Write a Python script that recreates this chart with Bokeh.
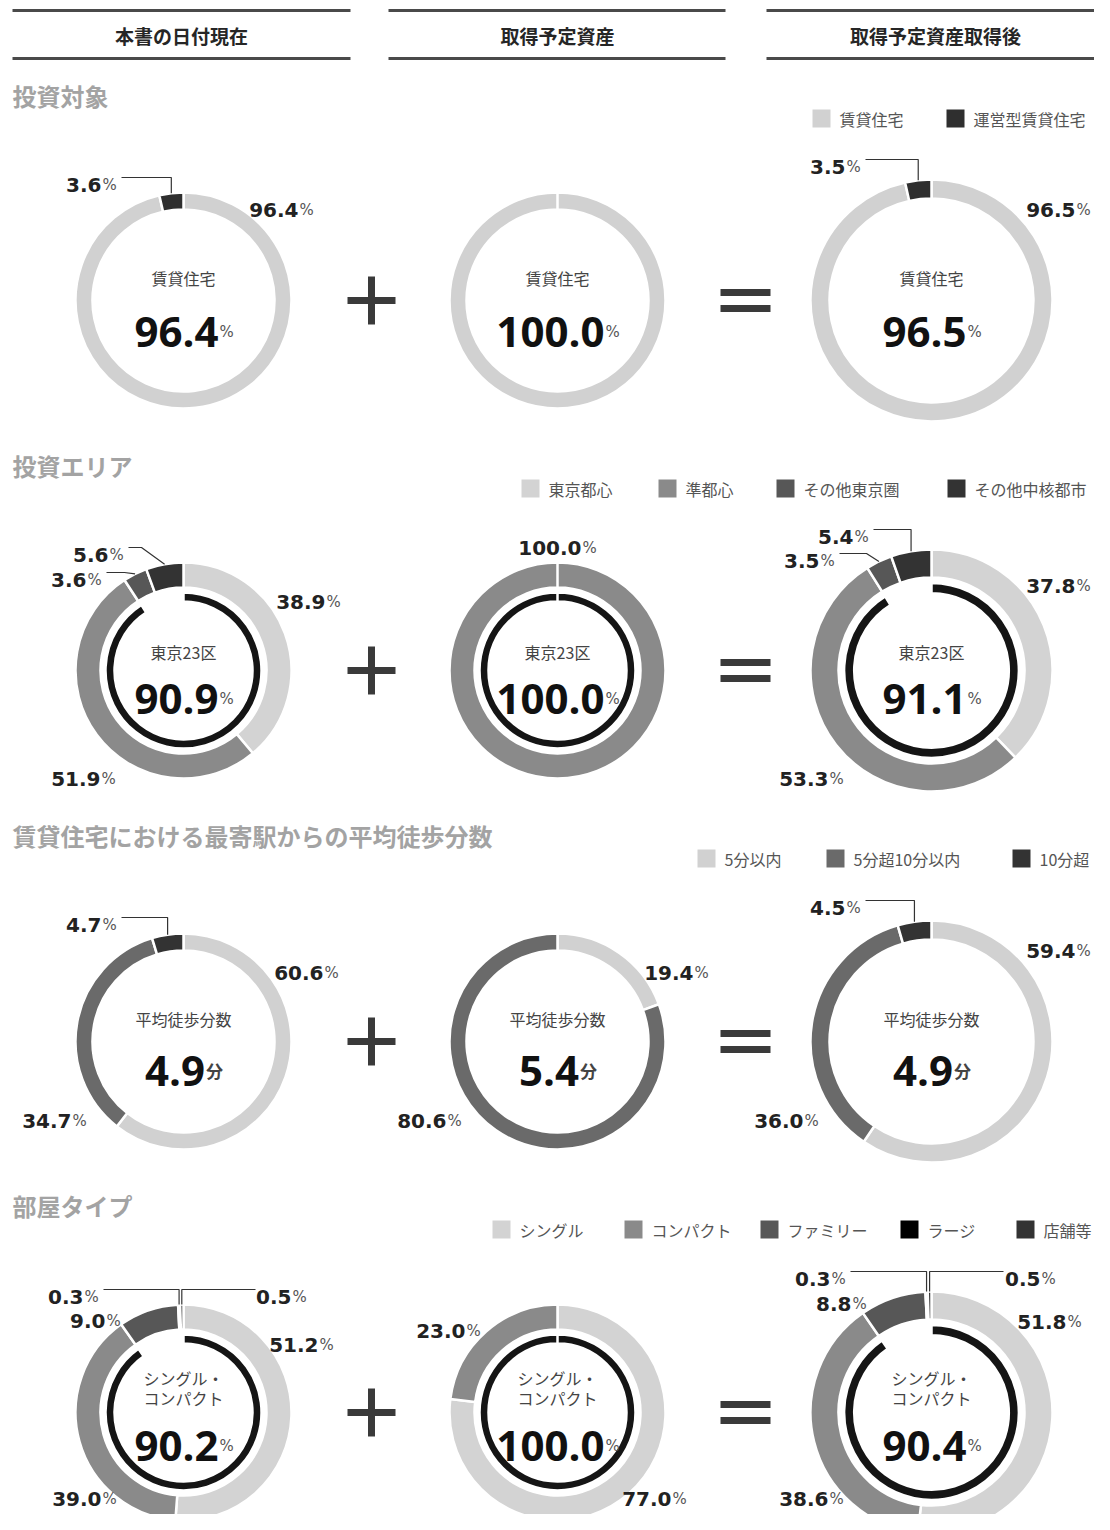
import math
from bokeh.plotting import figure
from bokeh.models import Range1d
from bokeh.embed import file_html
from bokeh.resources import INLINE
from bokeh.core.properties import value

# ---------------- data ----------------
column_titles = ["本書の日付現在", "取得予定資産", "取得予定資産取得後"]
section_titles = ["投資対象", "投資エリア", "賃貸住宅における最寄駅からの平均徒歩分数", "部屋タイプ"]

type_cats = ["賃貸住宅", "運営型賃貸住宅"]
type_now = [96.4, 3.6]
type_new = [100.0, 0.0]
type_after = [96.5, 3.5]
type_center = [96.4, 100.0, 96.5]

area_cats = ["東京都心", "準都心", "その他東京圏", "その他中核都市"]
area_now = [38.9, 51.9, 3.6, 5.6]
area_new = [0.0, 100.0, 0.0, 0.0]
area_after = [37.8, 53.3, 3.5, 5.4]
area_center = [90.9, 100.0, 91.1]

walk_cats = ["5分以内", "5分超10分以内", "10分超"]
walk_now = [60.6, 34.7, 4.7]
walk_new = [19.4, 80.6, 0.0]
walk_after = [59.4, 36.0, 4.5]
walk_center = [4.9, 5.4, 4.9]

room_cats = ["シングル", "コンパクト", "ファミリー", "ラージ", "店舗等"]
room_now = [51.2, 39.0, 9.0, 0.3, 0.5]
room_new = [77.0, 23.0, 0.0, 0.0, 0.0]
room_after = [51.8, 38.6, 8.8, 0.3, 0.5]
room_center = [90.2, 100.0, 90.4]

# ---------------- styles / layout ----------------
type_colors = ["#d1d1d1", "#2f2f2f"]
area_colors = ["#d3d3d3", "#8a8a8a", "#575757", "#333333"]
walk_colors = ["#d1d1d1", "#6a6a6a", "#333333"]
room_colors = ["#d3d3d3", "#8a8a8a", "#575757", "#000000", "#333333"]

CJK = value("Noto Sans CJK JP")
NUM = value("DejaVu Sans")
BIG = value("Open Sans")

sections = [
    dict(cats=type_cats, colors=type_colors, series=[type_now, type_new, type_after],
         center=type_center, caption=["賃貸住宅"], unit="%", inner=False),
    dict(cats=area_cats, colors=area_colors, series=[area_now, area_new, area_after],
         center=area_center, caption=["東京23区"], unit="%", inner=True),
    dict(cats=walk_cats, colors=walk_colors, series=[walk_now, walk_new, walk_after],
         center=walk_center, caption=["平均徒歩分数"], unit="分", inner=False),
    dict(cats=room_cats, colors=room_colors, series=[room_now, room_new, room_after],
         center=room_center, caption=["シングル・", "コンパクト"], unit="%", inner=True),
]

SEC_CY = [300, 670, 1041, 1412]
SEC_TITLE_Y = [95, 465, 835, 1205]
COL_CX = [183, 557, 931]
COL_R = [108, 108, 121]
CAP_OFF = [[-23], [-19], [-23], [-35, -15]]
BASE_OFF = [31, 28, 29, 33]

LEG_Y = [118, 488, 858, 1229]
LEG_X = [[812, 946], [521, 658, 776, 947], [697, 826, 1012], [492, 624, 760, 900, 1016]]

label_pos = {
    (0, 0): [(298, 202), (101, 177)],
    (0, 1): [None, None],
    (0, 2): [(1075, 202), (845, 159)],
    (1, 0): [(325, 594), (100, 771), (86, 572), (108, 547)],
    (1, 1): [None, (581, 540), None, None],
    (1, 2): [(1075, 578), (828, 771), (819, 553), (853, 529)],
    (2, 0): [(323, 965), (71, 1113), (101, 917)],
    (2, 1): [(693, 965), (446, 1113), None],
    (2, 2): [(1075, 943), (803, 1113), (845, 900)],
    (3, 0): [(318, 1337), (101, 1491), (105, 1313), (83, 1289), (291, 1289)],
    (3, 1): [(671, 1491), (465, 1323), None, None, None],
    (3, 2): [(1066, 1314), (828, 1491), (851, 1296), (830, 1271), (1040, 1271)],
}
leaders = {
    (0, 0): {1: (121, 177, None)},
    (0, 2): {1: (865, 159, None)},
    (1, 0): {3: (128, 547, 141), 2: (106, 572, 124)},
    (1, 2): {3: (873, 529, None), 2: (839, 553, 866)},
    (2, 0): {2: (121, 917, None)},
    (2, 2): {2: (865, 900, None)},
    (3, 0): {3: (103, 1289, None), 4: (255, 1289, None)},
    (3, 2): {3: (850, 1271, None), 4: (1003, 1271, None)},
}

p = figure(width=1094, height=1514, x_range=Range1d(0, 1094), y_range=Range1d(-1514, 0),
           output_backend="svg", toolbar_location=None,
           x_axis_location=None, y_axis_location=None, min_border=0)
p.grid.visible = False
p.outline_line_color = None
p.background_fill_color = "white"


def Y(y):
    return -y


def txt(x, y, s, size, color, font=CJK, style="normal", align="left", baseline="middle"):
    p.text(x=[x], y=[Y(y)], text=[s], text_font=font, text_font_size=f"{size}px",
           text_font_style=style, text_color=color, text_align=align, text_baseline=baseline)


def ang(f):
    return math.pi / 2 - 2 * math.pi * f


# header
for i, t in enumerate(column_titles):
    x0 = [12, 388, 766][i]
    x1 = [350, 725, 1094][i]
    for yy in (10, 58):
        p.line([x0, x1], [Y(yy), Y(yy)], line_color="#4a4a4a", line_width=3)
    txt([181, 557, 935][i], 35, t, 19, "#262626", style="bold", align="center")

for si, sec in enumerate(sections):
    cy = SEC_CY[si]
    txt(12, SEC_TITLE_Y[si], section_titles[si], 24, "#a3a3a3", style="bold")
    # legend
    for k, cat in enumerate(sec["cats"]):
        lx = LEG_X[si][k]
        p.rect(x=[lx + 9], y=[Y(LEG_Y[si])], width=18, height=18,
               fill_color=sec["colors"][k], line_color=None)
        txt(lx + 27, LEG_Y[si], cat, 16, "#555555")
    # plus & equals
    p.rect(x=[371, 371], y=[Y(cy), Y(cy)], width=[48, 7], height=[7, 48],
           fill_color="#3a3a3a", line_color=None)
    p.rect(x=[745, 745], y=[Y(cy - 8), Y(cy + 8)], width=50, height=7,
           fill_color="#3a3a3a", line_color=None)

    for ci in range(3):
        cx, R = COL_CX[ci], COL_R[ci]
        vals = sec["series"][ci]
        tot = sum(vals)
        s = R / 108.0
        thick = (25 if sec["inner"] else 17) * s
        starts, ends, cols, mids = [], [], [], []
        cum = 0.0
        for k, v in enumerate(vals):
            f0 = cum / tot
            cum += v
            f1 = cum / tot
            mids.append((f0 + f1) / 2)
            if v <= 0:
                continue
            starts.append(ang(f1))
            ends.append(ang(f0))
            cols.append(sec["colors"][k])
        p.annular_wedge(x=cx, y=Y(cy), inner_radius=R - thick, outer_radius=R,
                        start_angle=starts, end_angle=ends, fill_color=cols,
                        line_color="white", line_width=2.5)
        if sec["inner"]:
            fr = sec["center"][ci] / 100.0
            p.annular_wedge(x=cx, y=Y(cy), inner_radius=69 * s, outer_radius=78 * s,
                            start_angle=[ang(fr)], end_angle=[ang(0)], fill_color="#151515",
                            line_color="white", line_width=2.5)
        # center caption
        for j, cap in enumerate(sec["caption"]):
            txt(cx, cy + CAP_OFF[si][j], cap, 16, "#444444", align="center")
        # big number
        cv = sec["center"][ci]
        cs = f"{cv:.1f}"
        wnum = sum(11.8 if ch == "." else 24.0 for ch in cs)
        wunit = 14 if sec["unit"] == "%" else 17
        split = cx + (wnum - wunit) / 2
        by = cy + BASE_OFF[si]
        txt(split, by, cs, 42, "#111111", font=BIG, style="bold", align="right", baseline="alphabetic")
        if sec["unit"] == "%":
            txt(split + 1, by, "%", 15, "#555555", font=NUM, baseline="alphabetic")
        else:
            txt(split + 1, by, "分", 17, "#444444", style="bold", baseline="alphabetic")
        # segment labels
        for k, pos in enumerate(label_pos[(si, ci)]):
            if pos is None:
                continue
            lx, ly = pos
            txt(lx, ly + 7, f"{vals[k]:.1f}", 20, "#222222", font=NUM, style="bold",
                align="right", baseline="alphabetic")
            txt(lx + 1, ly + 7, "%", 15, "#555555", font=NUM, baseline="alphabetic")
        # leaders
        for k, (sx, sy, ex) in leaders.get((si, ci), {}).items():
            a = ang(mids[k])
            px = cx + R * math.cos(a)
            py = Y(cy) + R * math.sin(a)
            if ex is None:
                xs = [sx, px, px]
            else:
                xs = [sx, ex, px]
            ys = [Y(sy), Y(sy), py]
            p.line(xs, ys, line_color="#333333", line_width=1.2)

open("out.html", "w").write(file_html(p, INLINE))
